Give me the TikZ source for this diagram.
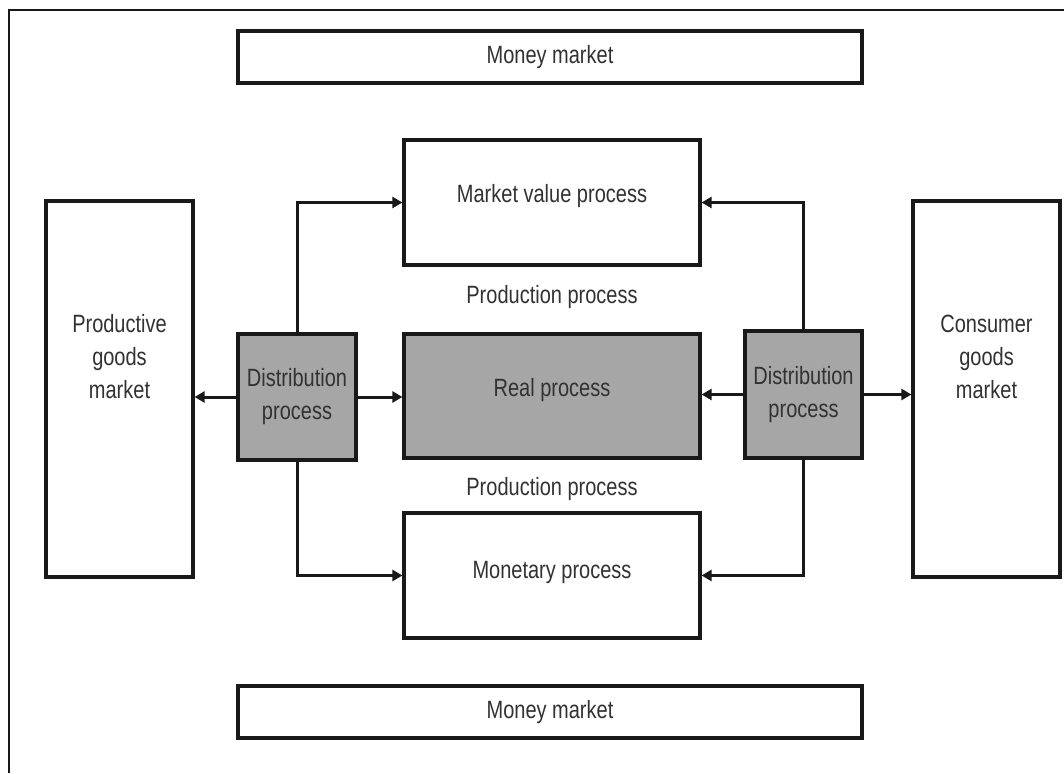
\documentclass[tikz,border=0pt]{standalone}
\usepackage{fontspec}
\setmainfont[FakeStretch=0.8]{Liberation Sans}
\usetikzlibrary{arrows.meta}
\definecolor{boxgray}{RGB}{166,166,166}
\definecolor{txt}{RGB}{50,50,50}
\begin{document}
\begin{tikzpicture}[x=1pt,y=-1pt,
  every node/.style={font=\fontsize{25}{33}\selectfont, text=txt, align=center},
  box/.style={draw=black!90, line width=3.2pt, fill=white, inner sep=0pt},
  shaded/.style={box, fill=boxgray},
  link/.style={line width=3pt, draw=black!90, -{Triangle[length=10pt,width=11pt]}},
  caption/.style={inner sep=0pt}
]
\useasboundingbox (0,0) rectangle (1064,773);
% open frame: left and top edges only
\draw[line width=2.2pt, black!90] (9,773) -- (9,10) -- (1064,10);

% money markets
\node[box, minimum width=624pt, minimum height=52pt] (mmtop) at (550,57) {Money market};
\node[box, minimum width=624pt, minimum height=52pt] (mmbot) at (550,712) {Money market};

% central processes
\node[box, minimum width=296pt, minimum height=125pt] (mvp) at (552,202.5) {};
\node[caption] (mvptext) at (552,196) {Market value process};
\node[shaded, minimum width=296pt, minimum height=124pt] (real) at (552,396) {};
\node[caption] (realtext) at (552,390) {Real process};
\node[box, minimum width=296pt, minimum height=125pt] (mon) at (552,575.5) {};
\node[caption] (montext) at (552,572) {Monetary process};

\node[caption] (prodA) at (552,297) {Production process};
\node[caption] (prodB) at (552,489) {Production process};

% goods markets
\node[box, minimum width=147pt, minimum height=376pt] (pgm) at (119.5,389) {};
\node[caption] (pgmtext) at (119.5,357) {Productive\\goods\\market};
\node[box, minimum width=147pt, minimum height=376pt] (cgm) at (986.5,389) {};
\node[caption] (cgmtext) at (986.5,357) {Consumer\\goods\\market};

% distribution processes
\node[shaded, minimum width=118pt, minimum height=126pt] (distL) at (297,397) {Distribution\\process};
\node[shaded, minimum width=117pt, minimum height=127pt] (distR) at (803.5,394.5) {Distribution\\process};

% connectors from the left distribution process
\draw[link] (distL.north) |- (mvp.west);
\draw[link] (distL.south) |- (mon.west);
\draw[link] (distL.west) -- (pgm.east |- distL.west);
\draw[link] (distL.east) -- (real.west |- distL.east);

% connectors from the right distribution process
\draw[link] (distR.north) |- (mvp.east);
\draw[link] (distR.south) |- (mon.east);
\draw[link] (distR.west) -- (real.east |- distR.west);
\draw[link] (distR.east) -- (cgm.west |- distR.east);
\end{tikzpicture}
\end{document}
